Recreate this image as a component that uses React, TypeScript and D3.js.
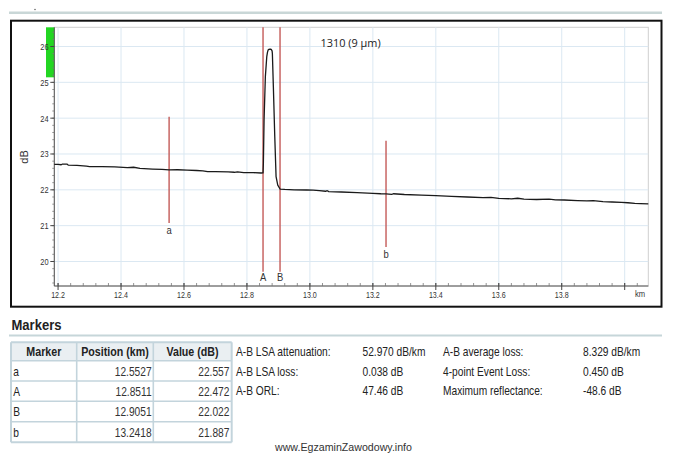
import React from "react";
import * as d3 from "d3";

const W = 674;
const H = 453;

// ---- Trace data (km, dB) ----
const traceKm = [
  12.188, 12.2, 12.21, 12.214, 12.228, 12.232, 12.26, 12.29, 12.3, 12.34, 12.38, 12.42, 12.44, 12.46,
  12.5, 12.53, 12.5527, 12.58, 12.61, 12.64, 12.66, 12.675, 12.7, 12.74, 12.76, 12.77, 12.79, 12.82,
  12.845, 12.8511,
  12.8522, 12.8544, 12.8585, 12.863, 12.865, 12.8671, 12.87, 12.8734, 12.877, 12.8798, 12.8808,
  12.8839, 12.8884, 12.8925, 12.8979, 12.9051,
  12.92, 12.95, 12.99, 13.01, 13.03, 13.05, 13.055, 13.06, 13.1, 13.15, 13.2, 13.225, 13.2418,
  13.26, 13.265, 13.3, 13.354, 13.4, 13.45, 13.5, 13.55, 13.575, 13.6, 13.64, 13.66, 13.68, 13.72,
  13.76, 13.78, 13.808, 13.85, 13.88, 13.9, 13.931, 13.96, 13.99, 14.01, 14.032, 14.05, 14.075,
];
const traceDb = [
  22.71, 22.71, 22.7, 22.72, 22.72, 22.69, 22.68, 22.66, 22.65, 22.65, 22.64, 22.62, 22.63, 22.6,
  22.58, 22.57, 22.557, 22.56, 22.55, 22.54, 22.53, 22.51, 22.51, 22.5, 22.49, 22.5, 22.48, 22.48,
  22.47, 22.472,
  22.74, 23.95, 25.16, 25.72, 25.83, 25.9, 25.92, 25.93, 25.92, 25.88, 25.8,
  24.88, 23.48, 22.37, 22.13, 22.022,
  22.01, 22.0, 21.995, 21.99, 21.98, 21.96, 21.975, 21.95, 21.94, 21.92, 21.9, 21.89, 21.887,
  21.872, 21.89, 21.87, 21.855, 21.84, 21.82, 21.8, 21.78, 21.79, 21.76, 21.75, 21.765, 21.74, 21.73,
  21.74, 21.72, 21.716, 21.7, 21.69, 21.7, 21.67, 21.66, 21.65, 21.64, 21.62, 21.615, 21.61,
];

// ---- Axes ----
const xTickValues = [12.2, 12.4, 12.6, 12.8, 13.0, 13.2, 13.4, 13.6, 13.8];
const xTickLabels = ["12.2", "12.4", "12.6", "12.8", "13.0", "13.2", "13.4", "13.6", "13.8"];
const xGridValues = [12.2, 12.4, 12.6, 12.8, 13.0, 13.2, 13.4, 13.6, 13.8, 14.0];
const yTickValues = [20, 21, 22, 23, 24, 25, 26];
const yTickLabels = ["20", "21", "22", "23", "24", "25", "26"];
const xDomain = [12.188, 14.075];
const yDomain = [19.316, 26.536];
const refLevelDb = 25.14;

// ---- Markers ----
const markerNames = ["a", "A", "B", "b"];
const markerPositions = [12.5527, 12.8511, 12.9051, 13.2418];
const markerValues = [22.557, 22.472, 22.022, 21.887];
const markerPositionLabels = ["12.5527", "12.8511", "12.9051", "13.2418"];
const markerValueLabels = ["22.557", "22.472", "22.022", "21.887"];
const tableHeaders = ["Marker", "Position (km)", "Value (dB)"];

// ---- Stats ----
const statLabelsLeft = ["A-B LSA attenuation:", "A-B LSA loss:", "A-B ORL:"];
const statValuesLeft = ["52.970 dB/km", "0.038 dB", "47.46 dB"];
const statLabelsRight = ["A-B average loss:", "4-point Event Loss:", "Maximum reflectance:"];
const statValuesRight = ["8.329 dB/km", "0.450 dB", "-48.6 dB"];

const traceTitle = "1310 (9 µm)";
const yAxisTitle = "dB";
const xUnit = "km";
const heading = "Markers";
const watermark = "www.EgzaminZawodowy.info";

const ARIAL = "'Liberation Sans', Arial, sans-serif";

function T(props: {
  x: number; y: number; children: any; size?: number; anchor?: string; sx?: number;
  weight?: string | number; fill?: string; family?: string;
}) {
  const { x, y, children, size = 12, anchor = "start", sx = 1, weight = "normal", fill = "#222", family = ARIAL } = props;
  return (
    <text
      transform={`translate(${x},${y}) scale(${sx},1)`}
      textAnchor={anchor as any}
      dominantBaseline="central"
      fontSize={size}
      fontWeight={weight as any}
      fill={fill}
      fontFamily={family}
    >
      {children}
    </text>
  );
}

export default function App() {
  const plotL = 54.3, plotR = 648.3, plotT = 27.3, plotB = 286;
  const x = d3.scaleLinear().domain(xDomain).range([plotL, plotR]);
  const y = d3.scaleLinear().domain(yDomain).range([plotB, plotT]);

  const pts = traceKm.map((k, i) => [k, traceDb[i]] as [number, number]);
  const line = d3.line<[number, number]>().x((d) => x(d[0])).y((d) => y(d[1]));

  const xMinor = d3.range(12.2, 14.07, 0.04);
  const yMinor = d3.range(19.4, 26.5, 0.2);

  const red = "#c45a58";
  const gridC = "#dbe8f2";
  const span = 1.48;

  // table geometry
  const tL = 11, tR = 231.7;
  const colX = [11, 76.7, 153.3, 231.7];
  const rowY = [342.3, 360.7, 381, 401.3, 421.7, 442.3];
  const tableLine = "#c3d4dc";

  const statRows = [352, 371.5, 391];

  return (
    <svg width={W} height={H} style={{ position: "absolute", left: 0, top: 0, background: "#fff" }}>
      <rect x={0} y={0} width={W} height={H} fill="#fff" />
      {/* top decoration */}
      <line x1={9} x2={662} y1={12.8} y2={12.8} stroke="#c9d7d7" strokeWidth={2.5} />
      <circle cx={35} cy={9.5} r={0.8} fill="#666" />

      {/* outer frame */}
      <rect x={11} y={20.7} width={650.5} height={286} fill="#fff" stroke="#111" strokeWidth={2} />

      {/* plot area */}
      <rect x={plotL} y={plotT} width={plotR - plotL} height={plotB - plotT} fill="#fff" stroke="#cfcfcf" strokeWidth={1} />
      {xGridValues.map((v) => (
        <line key={"gx" + v} x1={x(v)} x2={x(v)} y1={plotT} y2={plotB} stroke={gridC} strokeWidth={1} />
      ))}
      {yTickValues.map((v) => (
        <line key={"gy" + v} x1={plotL} x2={plotR} y1={y(v)} y2={y(v)} stroke={gridC} strokeWidth={1} />
      ))}

      {/* reference level bar */}
      <rect x={46} y={plotT} width={plotL - 46} height={y(refLevelDb) - plotT} fill="#22d622" />

      {/* y axis */}
      <line x1={plotL} x2={plotL} y1={plotT} y2={plotB} stroke="#555" strokeWidth={1} />
      {yMinor.map((v, i) => (
        <line key={"ym" + i} x1={plotL - 2} x2={plotL} y1={y(v)} y2={y(v)} stroke="#777" strokeWidth={0.8} />
      ))}
      {yTickValues.map((v, i) => (
        <g key={"yt" + v}>
          <line x1={plotL - 4} x2={plotL} y1={y(v)} y2={y(v)} stroke="#444" strokeWidth={1} />
          <T x={48.6} y={y(v)} size={9.5} anchor="end" sx={0.78} fill="#333">{yTickLabels[i]}</T>
        </g>
      ))}
      <text
        transform={`translate(24,${157}) rotate(-90)`}
        textAnchor="middle"
        dominantBaseline="central"
        fontSize={11}
        fontFamily={ARIAL}
        fill="#333"
      >
        {yAxisTitle}
      </text>

      {/* x axis */}
      <line x1={plotL} x2={plotR} y1={plotB} y2={plotB} stroke="#555" strokeWidth={1} />
      {xMinor.map((v, i) => (
        <line key={"xm" + i} x1={x(v)} x2={x(v)} y1={plotB - 3} y2={plotB} stroke="#777" strokeWidth={0.8} />
      ))}
      {xGridValues.map((v) => (
        <line key={"xt" + v} x1={x(v)} x2={x(v)} y1={plotB - 3} y2={plotB + 4} stroke="#444" strokeWidth={1} />
      ))}
      {xTickValues.map((v, i) => (
        <T key={"xl" + v} x={x(v)} y={294.5} size={9.5} anchor="middle" sx={0.75} fill="#333">{xTickLabels[i]}</T>
      ))}
      <T x={640} y={293.5} size={9.5} anchor="middle" sx={0.8} fill="#333">{xUnit}</T>

      {/* title */}
      <T x={320.5} y={42.3} size={11.5} family="'Open Sans', 'Noto Sans', sans-serif" sx={0.95} fill="#222">{traceTitle}</T>

      {/* markers */}
      {markerNames.map((n, i) => {
        const mx = x(markerPositions[i]);
        const full = n === "A" || n === "B";
        const y1 = full ? plotT : y(markerValues[i] + span);
        const y2 = full ? 271.7 : y(markerValues[i] - span);
        return (
          <g key={"mk" + n}>
            <line x1={mx} x2={mx} y1={y1} y2={y2} stroke={red} strokeWidth={1.4} />
            <T x={mx} y={y2 + (full ? 5.5 : 7.5)} size={10.5} anchor="middle" sx={0.9} fill="#333">{n}</T>
          </g>
        );
      })}

      {/* trace */}
      <path d={line(pts) || ""} fill="none" stroke="#1a1a1a" strokeWidth={1.3} strokeLinejoin="round" />

      {/* Markers heading */}
      <T x={11.5} y={325.5} size={14.5} weight="bold" sx={0.9} fill="#222">{heading}</T>
      <line x1={9} x2={662} y1={335.5} y2={335.5} stroke="#c6d6d9" strokeWidth={2.2} />

      {/* table */}
      <rect x={tL} y={rowY[0]} width={tR - tL} height={rowY[1] - rowY[0]} fill="#eaeff2" />
      {rowY.map((ry, i) => (
        <line key={"tr" + i} x1={tL} x2={tR} y1={ry} y2={ry} stroke={tableLine} strokeWidth={i === 0 || i === rowY.length - 1 ? 2 : 1.6} />
      ))}
      {colX.map((cx, i) => (
        <line key={"tc" + i} x1={cx} x2={cx} y1={rowY[0]} y2={rowY[rowY.length - 1]} stroke={tableLine} strokeWidth={i === 0 || i === colX.length - 1 ? 2 : 1.6} />
      ))}
      {tableHeaders.map((h, i) => (
        <T key={"th" + i} x={(colX[i] + colX[i + 1]) / 2} y={(rowY[0] + rowY[1]) / 2 + 0.5} size={12} weight="bold" anchor="middle" sx={0.89} fill="#222">{h}</T>
      ))}
      {markerNames.map((n, i) => {
        const cy = (rowY[i + 1] + rowY[i + 2]) / 2 + 0.5;
        return (
          <g key={"row" + n}>
            <T x={13.3} y={cy} size={12} sx={0.85} fill="#222">{n}</T>
            <T x={151.6} y={cy} size={12} anchor="end" sx={0.85} fill="#333">{markerPositionLabels[i]}</T>
            <T x={229.4} y={cy} size={12} anchor="end" sx={0.85} fill="#333">{markerValueLabels[i]}</T>
          </g>
        );
      })}

      {/* stats */}
      {statRows.map((sy, i) => (
        <g key={"st" + i}>
          <T x={236} y={sy} size={12} sx={0.85} fill="#222">{statLabelsLeft[i]}</T>
          <T x={362.5} y={sy} size={12} sx={0.85} fill="#222">{statValuesLeft[i]}</T>
          <T x={443} y={sy} size={12} sx={0.85} fill="#222">{statLabelsRight[i]}</T>
          <T x={583} y={sy} size={12} sx={0.85} fill="#222">{statValuesRight[i]}</T>
        </g>
      ))}

      {/* watermark */}
      <text x={275} y={447.3} dominantBaseline="central" fontSize={11} fontFamily={ARIAL} fill="#333" textLength={137} lengthAdjust="spacingAndGlyphs">
        {watermark}
      </text>
    </svg>
  );
}
